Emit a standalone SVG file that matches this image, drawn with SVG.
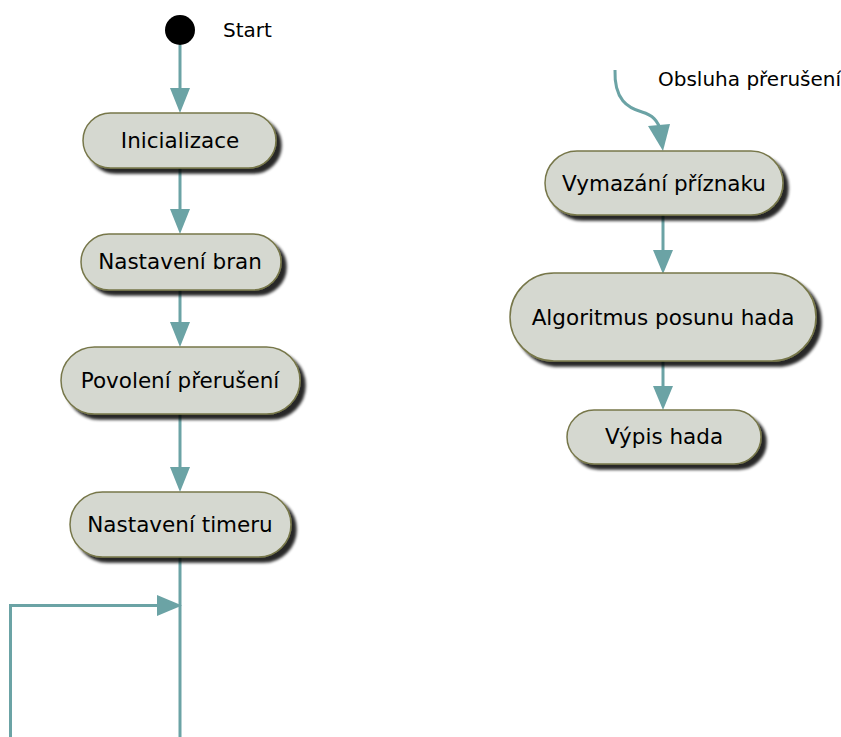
<svg xmlns="http://www.w3.org/2000/svg" width="841" height="737" viewBox="0 0 841 737">
  <defs>
    <filter id="shadow" x="-10%" y="-20%" width="130%" height="160%">
      <feGaussianBlur in="SourceAlpha" stdDeviation="1.8"/>
      <feOffset dx="5" dy="5" result="b"/>
      <feComponentTransfer><feFuncA type="linear" slope="0.85"/></feComponentTransfer>
      <feMerge><feMergeNode/><feMergeNode in="SourceGraphic"/></feMerge>
    </filter>
  </defs>
  <style>
    .act { fill: #d5d8d0; stroke: #77774a; stroke-width: 1.5; filter: url(#shadow); }
    .lbl { font-family: "DejaVu Sans", Verdana, sans-serif; font-size: 21.5px; fill: #000; text-anchor: middle; }
    .note { font-family: "DejaVu Sans", Verdana, sans-serif; font-size: 20px; fill: #000; }
    .edge { fill: none; stroke: #6ba3a5; stroke-width: 3; }
    .head { fill: #6ba3a5; stroke: none; }
  </style>
  <rect width="841" height="737" fill="#ffffff"/>

  <!-- start marker -->
  <g id="start">
    <circle cx="180" cy="30" r="15" fill="#000"/>
    <text class="note" x="223" y="37">Start</text>
  </g>

  <!-- interrupt entry label -->
  <g id="irq-label">
    <text class="note" x="658" y="86">Obsluha přerušení</text>
  </g>

  <!-- connectors -->
  <g id="connectors">
    <path class="edge" d="M180,45 V95"/>
    <polygon class="head" points="170,88 190,88 180,113"/>

    <path class="edge" d="M180,168 V215"/>
    <polygon class="head" points="170,209 190,209 180,234"/>

    <path class="edge" d="M180,290 V328"/>
    <polygon class="head" points="170,322 190,322 180,347"/>

    <path class="edge" d="M180,414 V473"/>
    <polygon class="head" points="170,467 190,467 180,492"/>

    <path class="edge" d="M180,557 V737"/>
    <path class="edge" d="M10.5,737 V605.5 H165"/>
    <polygon class="head" points="157,595 157,616 182,605.5"/>

    <path class="edge" d="M615,70 C614,100 628,108 642,112 C652,115 658,120 661,132"/>
    <polygon class="head" points="648,126 670,124 663,151"/>

    <path class="edge" d="M663,215 V256"/>
    <polygon class="head" points="653,250 673,250 663,274"/>

    <path class="edge" d="M663,361 V392"/>
    <polygon class="head" points="653,386 673,386 663,410"/>
  </g>

  <!-- main flow -->
  <g id="inicializace">
    <rect class="act" x="83" y="113" width="193" height="55" rx="27.5"/>
    <text class="lbl" x="180" y="148">Inicializace</text>
  </g>
  <g id="nastaveni-bran">
    <rect class="act" x="81" y="234" width="200" height="56" rx="28"/>
    <text class="lbl" x="180" y="269">Nastavení bran</text>
  </g>
  <g id="povoleni-preruseni">
    <rect class="act" x="61" y="347" width="239" height="67" rx="33.5"/>
    <text class="lbl" x="180" y="388">Povolení přerušení</text>
  </g>
  <g id="nastaveni-timeru">
    <rect class="act" x="70" y="492" width="221" height="65" rx="32.5"/>
    <text class="lbl" x="180" y="532">Nastavení timeru</text>
  </g>

  <!-- interrupt handler -->
  <g id="vymazani-priznaku">
    <rect class="act" x="545" y="151" width="238" height="64" rx="32"/>
    <text class="lbl" x="664" y="191">Vymazání příznaku</text>
  </g>
  <g id="algoritmus">
    <rect class="act" x="510" y="273" width="306" height="88" rx="44"/>
    <text class="lbl" x="663" y="325">Algoritmus posunu hada</text>
  </g>
  <g id="vypis-hada">
    <rect class="act" x="567" y="410" width="194" height="54" rx="27"/>
    <text class="lbl" x="664" y="444">Výpis hada</text>
  </g>
</svg>
